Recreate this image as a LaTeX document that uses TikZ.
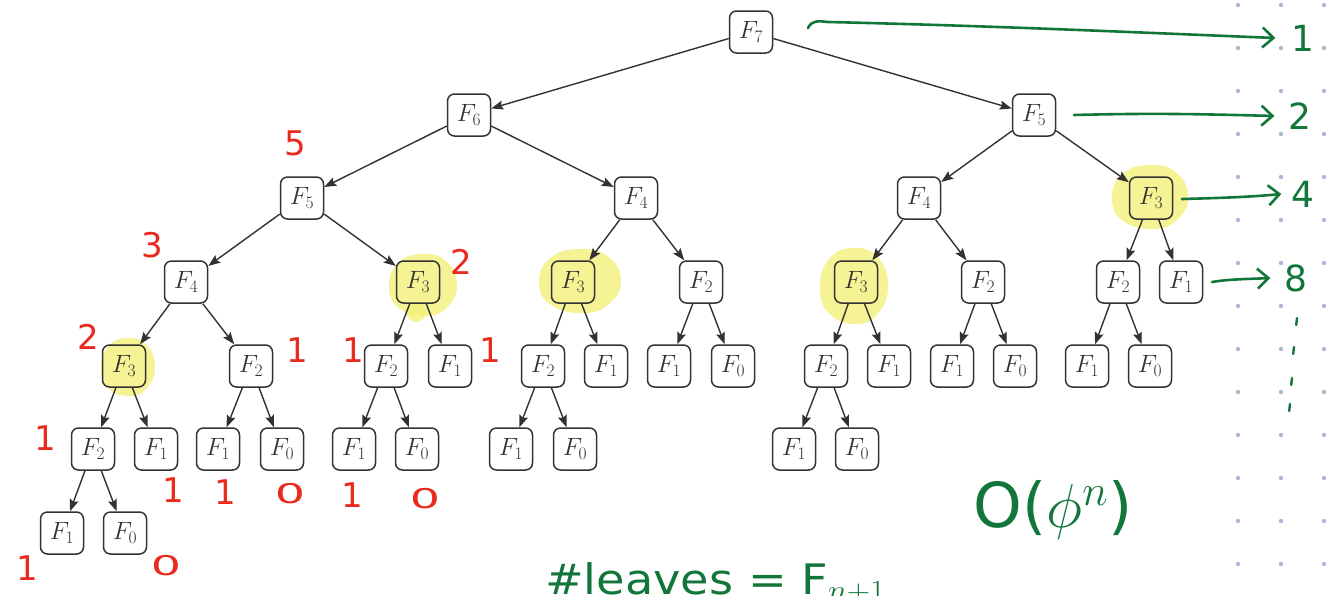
\RequirePackage{fix-cm}
\documentclass[tikz,border=0pt]{standalone}
\usepackage{fontspec}
\newfontfamily\handfont{DejaVu Sans}
\usetikzlibrary{arrows.meta,calc}
\definecolor{hgreen}{RGB}{18,118,58}
\definecolor{hred}{RGB}{234,42,30}
\definecolor{hyel}{RGB}{242,240,120}
\definecolor{griddot}{RGB}{170,184,214}
\definecolor{boxgray}{RGB}{50,50,50}
\newcommand\hlblob[4]{%
  \fill[hl] plot[smooth cycle, tension=0.8] coordinates {
    ({#1+#3},{#2}) ({#1+0.72*#3},{#2+0.7*#4}) ({#1+0.1*#3},{#2+#4}) ({#1-0.7*#3},{#2+0.75*#4})
    ({#1-#3},{#2+0.05*#4}) ({#1-0.72*#3},{#2-0.72*#4}) ({#1},{#2-#4}) ({#1+0.7*#3},{#2-0.75*#4})};}
\newcommand\fib[1]{\fontsize{25}{28}\selectfont$F_{#1}$}
\begin{document}
\begin{tikzpicture}[x=1pt,y=-1pt,
  fbox/.style={draw=boxgray, line width=1.5pt, rounded corners=7pt, minimum width=43pt,
    minimum height=42pt, inner sep=0pt, text=boxgray},
  tedge/.style={-{Stealth[length=12pt,width=9pt,inset=2pt]}, line width=1.4pt, draw=boxgray},
  rnum/.style={text=hred, font=\handfont\fontsize{34}{36}\selectfont, inner sep=0pt},
  rzero/.style={rnum, xscale=1.4, yscale=0.8},
  gnum/.style={text=hgreen, font=\handfont\fontsize{36}{38}\selectfont, inner sep=0pt},
  garrow/.style={draw=hgreen, line width=2.6pt, line cap=round,
    -{Straight Barb[length=11pt,width=20pt,line width=2.6pt]}},
  hl/.style={fill=hyel, opacity=0.8},
]
\useasboundingbox (0,0) rectangle (1335,595);
\clip (0,0) rectangle (1335,595);

% dot grid
\foreach \gx in {1238,1281,1324}
  \foreach \k in {0,...,13}
    \fill[griddot] (\gx,{5+43*\k}) circle (2.2);

% highlights
\hlblob{423}{285}{34}{31}
\fill[hl] (416,312) circle (10);
\hlblob{580}{281}{41}{32}
\hlblob{854}{286}{34}{38}
\hlblob{1150}{197}{38}{32}
\hlblob{128}{367}{27}{29}

% tree nodes
\node[fbox] (a)   at (751,32)  {\fib7};
\node[fbox] (b1)  at (469,115) {\fib6};
\node[fbox] (b2)  at (1034,115) {\fib5};
\node[fbox] (c1)  at (302,198) {\fib5};
\node[fbox] (c2)  at (636,198) {\fib4};
\node[fbox] (c3)  at (919,198) {\fib4};
\node[fbox] (c4)  at (1151,198) {\fib3};
\node[fbox] (d1)  at (186,282) {\fib4};
\node[fbox] (d2)  at (418,282) {\fib3};
\node[fbox] (d3)  at (573,282) {\fib3};
\node[fbox] (d4)  at (701,282) {\fib2};
\node[fbox] (d5)  at (856,282) {\fib3};
\node[fbox] (d6)  at (983,282) {\fib2};
\node[fbox] (d7)  at (1118,282) {\fib2};
\node[fbox] (d8)  at (1181,282) {\fib1};
\node[fbox] (e1)  at (124,366) {\fib3};
\node[fbox] (e2)  at (251,366) {\fib2};
\node[fbox] (e3)  at (386,366) {\fib2};
\node[fbox] (e4)  at (450,366) {\fib1};
\node[fbox] (e5)  at (543,366) {\fib2};
\node[fbox] (e6)  at (606,366) {\fib1};
\node[fbox] (e7)  at (669,366) {\fib1};
\node[fbox] (e8)  at (733,366) {\fib0};
\node[fbox] (e9)  at (826,366) {\fib2};
\node[fbox] (e10) at (889,366) {\fib1};
\node[fbox] (e11) at (952,366) {\fib1};
\node[fbox] (e12) at (1015,366) {\fib0};
\node[fbox] (e13) at (1087,366) {\fib1};
\node[fbox] (e14) at (1150,366) {\fib0};
\node[fbox] (f1)  at (93,449)  {\fib2};
\node[fbox] (f2)  at (156,449) {\fib1};
\node[fbox] (f3)  at (218,449) {\fib1};
\node[fbox] (f4)  at (282,449) {\fib0};
\node[fbox] (f5)  at (354,449) {\fib1};
\node[fbox] (f6)  at (417,449) {\fib0};
\node[fbox] (f7)  at (511,449) {\fib1};
\node[fbox] (f8)  at (575,449) {\fib0};
\node[fbox] (f9)  at (794,449) {\fib1};
\node[fbox] (f10) at (857,449) {\fib0};
\node[fbox] (g1)  at (62,533)  {\fib1};
\node[fbox] (g2)  at (125,533) {\fib0};

% tree edges
\foreach \p/\c in {a/b1,a/b2,b1/c1,b1/c2,b2/c3,b2/c4,
  c1/d1,c1/d2,c2/d3,c2/d4,c3/d5,c3/d6,c4/d7,c4/d8,
  d1/e1,d1/e2,d2/e3,d2/e4,d3/e5,d3/e6,d4/e7,d4/e8,d5/e9,d5/e10,d6/e11,d6/e12,d7/e13,d7/e14,
  e1/f1,e1/f2,e2/f3,e2/f4,e3/f5,e3/f6,e5/f7,e5/f8,e9/f9,e9/f10,f1/g1,f1/g2}
  \draw[tedge] (\p) -- (\c);

% red annotations
\node[rnum] (r5)  at (295,143) {5};
\node[rnum] (r3)  at (152,245) {3};
\node[rnum] (r2a) at (461,262) {2};
\node[rnum] (r2b) at (88,337)  {2};
\node[rnum] (r1a) at (297,350) {1};
\node[rnum] (r1b) at (353,350) {1};
\node[rnum] (r1c) at (490,350) {1};
\node[rnum] (r1d) at (45,438)  {1};
\node[rnum] (r1e) at (173,490) {1};
\node[rnum] (r1f) at (225,492) {1};
\node[rzero] (r0a) at (290,494) {0};
\node[rnum] (r1g) at (352,495) {1};
\node[rzero] (r0b) at (425,499) {0};
\node[rnum] (r1h) at (27,568)  {1};
\node[rzero] (r0c) at (166,566) {0};

% green level counts
\node[gnum] (n1) at (1303,38)  {1};
\node[gnum] (n2) at (1300,116) {2};
\node[gnum] (n4) at (1303,194) {4};
\node[gnum] (n8) at (1296,278) {8};
\coordinate (s1) at (808,28);
\coordinate (s2) at (1074,115);
\coordinate (s4) at (1182,199);
\coordinate (s8) at (1212,282);
\draw[garrow] (s1) .. controls (812,20) and (818,21) .. (828,22)
  .. controls (1000,26) and (1150,33) .. ([xshift=-16pt]n1.west);
\draw[garrow] (s2) .. controls (1150,113) and (1200,114) .. ([xshift=-14pt]n2.west);
\draw[garrow] (s4) .. controls (1220,198) and (1250,197) .. ([xshift=-10pt]n4.west);
\draw[garrow] (s8) .. controls (1230,279) and (1250,279) .. ([xshift=-14pt]n8.west);
% vertical ellipsis ticks
\foreach \tx/\ty in {1297/318,1294/347,1292/378,1290/404}
  \draw[hgreen, line width=2.4pt, line cap=round] (\tx,\ty) -- ++(-0.8,7);

% green formulas
\node[text=hgreen, font=\handfont\fontsize{62}{64}\selectfont, inner sep=0pt] (bigo) at (1053,510)
  {O($\phi^{n}$)};
\node[text=hgreen, font=\handfont\fontsize{42}{44}\selectfont, inner sep=0pt, anchor=base west, xscale=1.1]
  (leaves) at (545,594) {\#leaves = F$_{n+1}$};
\end{tikzpicture}
\end{document}
